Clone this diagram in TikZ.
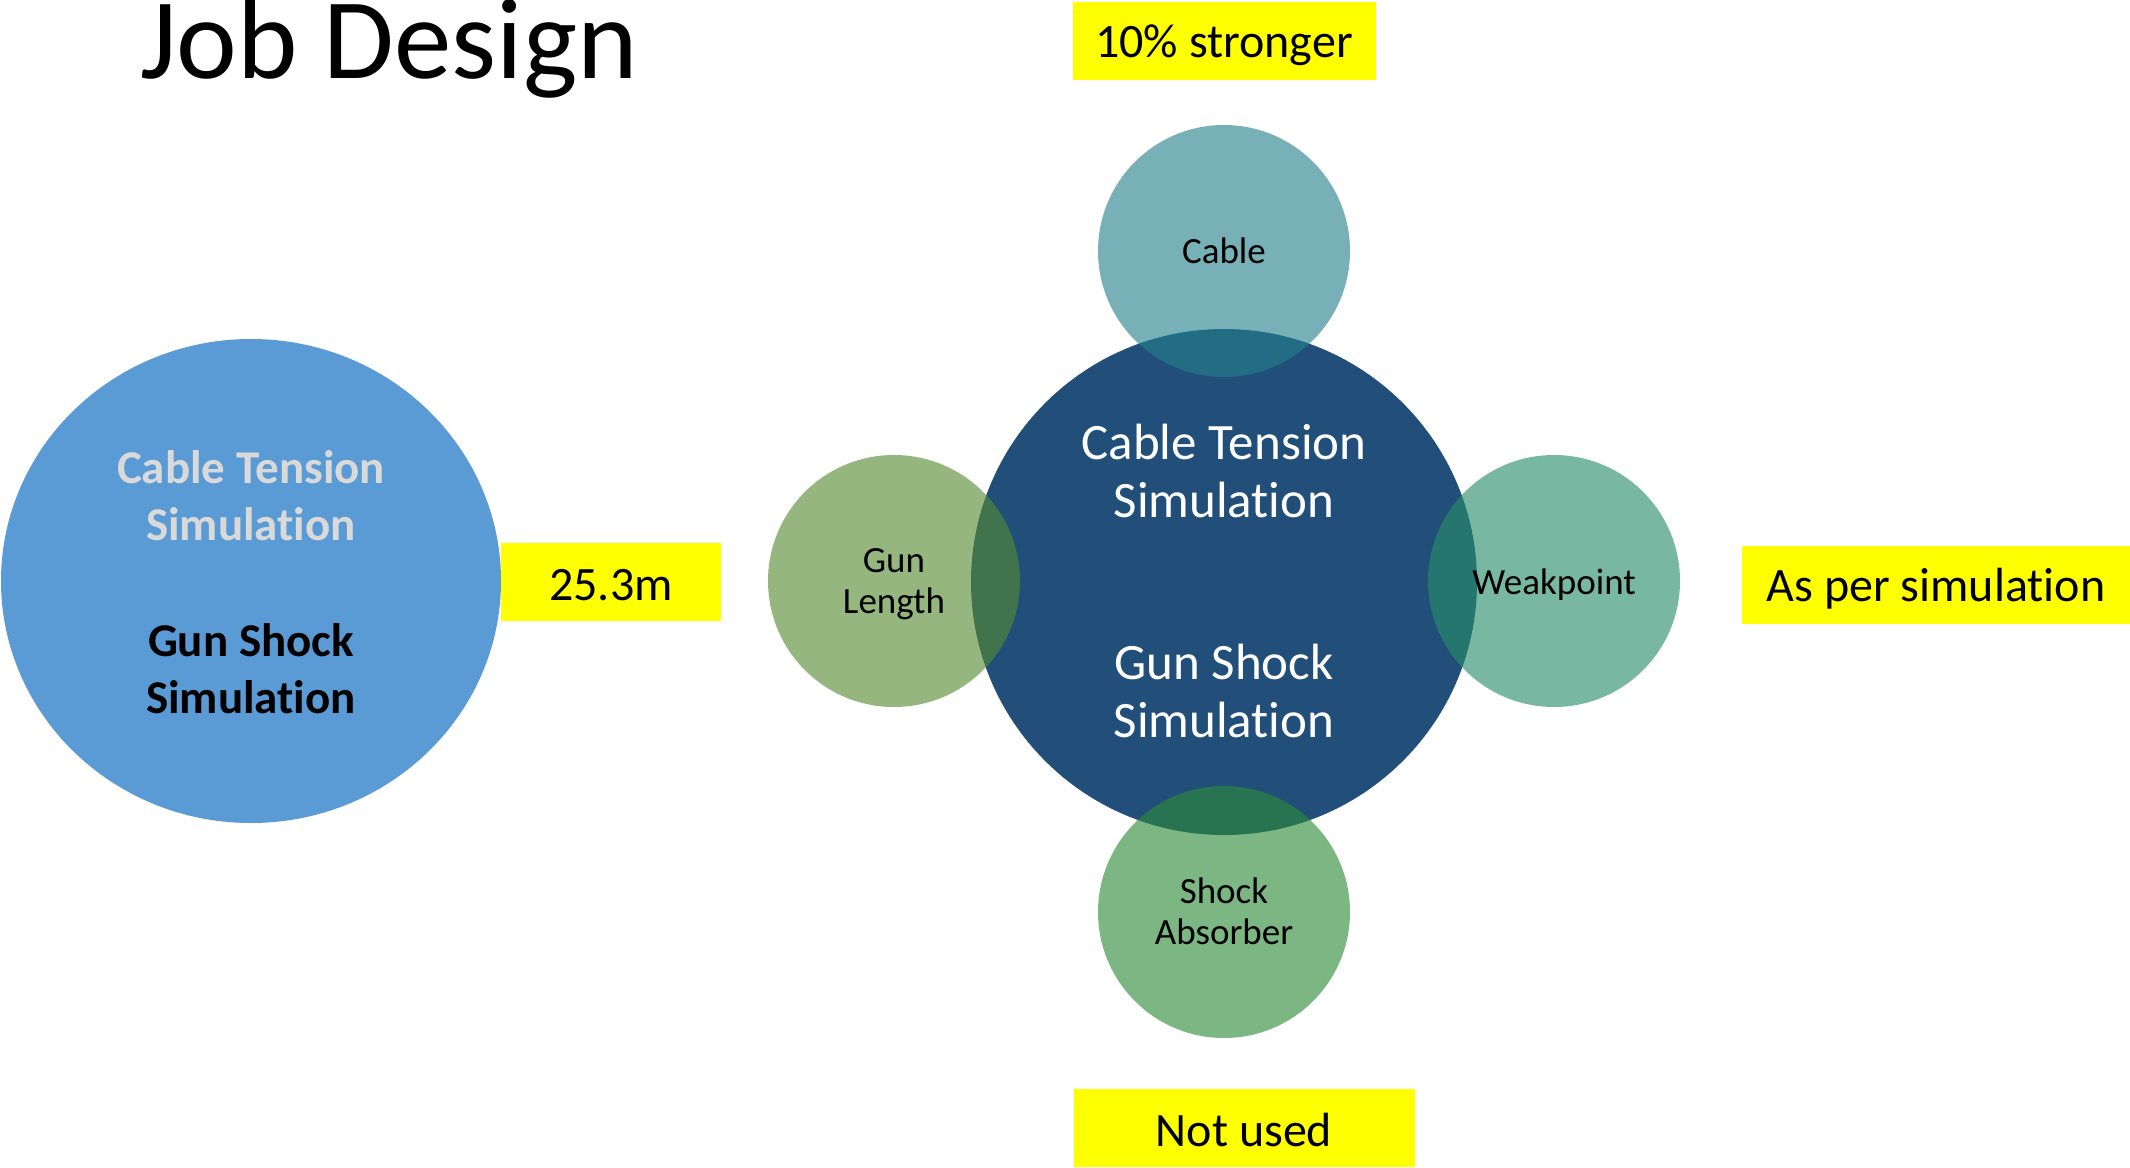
\documentclass[tikz,border=0pt]{standalone}
\usepackage{fontspec}
\setmainfont{Carlito}[Ligatures={NoCommon,NoContextual,NoRare}]
\usetikzlibrary{shapes.geometric}
\definecolor{bigblue}{RGB}{91,155,213}
\definecolor{navy}{RGB}{33,79,121}
\definecolor{cablec}{RGB}{36,128,139}
\definecolor{gunc}{RGB}{85,139,49}
\definecolor{weakc}{RGB}{38,142,105}
\definecolor{shockc}{RGB}{45,139,56}
\definecolor{lgray}{RGB}{217,217,217}
\definecolor{hl}{RGB}{255,255,0}
\tikzset{
  smallc/.style={circle, minimum size=252pt, inner sep=0pt, fill opacity=0.62, draw=none},
  smalltxt/.style={align=center, text=black, font=\fontsize{37}{41}\selectfont},
  bigtxt/.style={align=center, text=white, font=\fontsize{51}{58}\selectfont},
  lefttxt/.style={align=center, font=\bfseries\fontsize{47}{57}\selectfont},
  hlbox/.style={fill=hl, inner sep=0pt, font=\fontsize{48}{58}\selectfont}
}
\begin{document}
\begin{tikzpicture}[x=1pt,y=-1pt]
\useasboundingbox[fill=white] (0,0) rectangle (2130,1167);
% title
\node[anchor=base west, inner sep=0pt, font=\fontsize{115}{138}\selectfont] (title) at (140,78) {Job Design};
% left circle
\node[ellipse, minimum width=500pt, minimum height=484pt, inner sep=0pt, fill=bigblue] (left) at (251,581) {};
\path (left) ++(0,-85) node[lefttxt, text=lgray] (lct) {Cable Tension\\Simulation};
\path (left) ++(0,88) node[lefttxt, text=black] (lgs) {Gun Shock\\Simulation};
% 25.3m box
\node[hlbox, minimum width=220pt, minimum height=78pt] (b253) at (611,582) {};
\path (b253) ++(0,3) node[inner sep=0pt, font=\fontsize{48}{58}\selectfont] (b253t) {25.3m};
% central circle
\node[circle, minimum size=506pt, inner sep=0pt, fill=navy] (mid) at (1224,582) {};
% satellites
\node[smallc, fill=cablec] (cable) at (1224,251) {};
\node[smallc, fill=gunc] (gun) at (894,581) {};
\node[smallc, fill=weakc] (weak) at (1554,581) {};
\node[smallc, fill=shockc] (shock) at (1224,912) {};
% central text
\path (mid) ++(0,-111) node[bigtxt] (mct) {Cable Tension\\Simulation};
\path (mid) ++(0,109) node[bigtxt] (mgs) {Gun Shock\\Simulation};
% satellite texts
\node[smalltxt] (cablet) at (cable) {Cable};
\path (gun) ++(0,3) node[smalltxt] (gunt) {Gun\\Length};
\path (weak) ++(0,4) node[smalltxt] (weakt) {Weakpoint};
\path (shock) ++(0,-1) node[smalltxt] (shockt) {Shock\\Absorber};
% highlight boxes
\node[hlbox, minimum width=303pt, minimum height=78pt] (b10) at (1224,41) {};
\path (b10) ++(0,4) node[inner sep=0pt, font=\fontsize{48}{58}\selectfont] (b10t) {10\% stronger};
\node[hlbox, minimum width=389pt, minimum height=78pt] (bas) at (1936,585) {};
\path (bas) ++(0,4) node[inner sep=0pt, font=\fontsize{48}{58}\selectfont] (bast) {As per simulation};
\node[hlbox, minimum width=341pt, minimum height=78pt] (bnu) at (1244,1128) {};
\path (bnu) ++(0,2) node[inner sep=0pt, font=\fontsize{48}{58}\selectfont] (bnut) {Not used};
\end{tikzpicture}
\end{document}
